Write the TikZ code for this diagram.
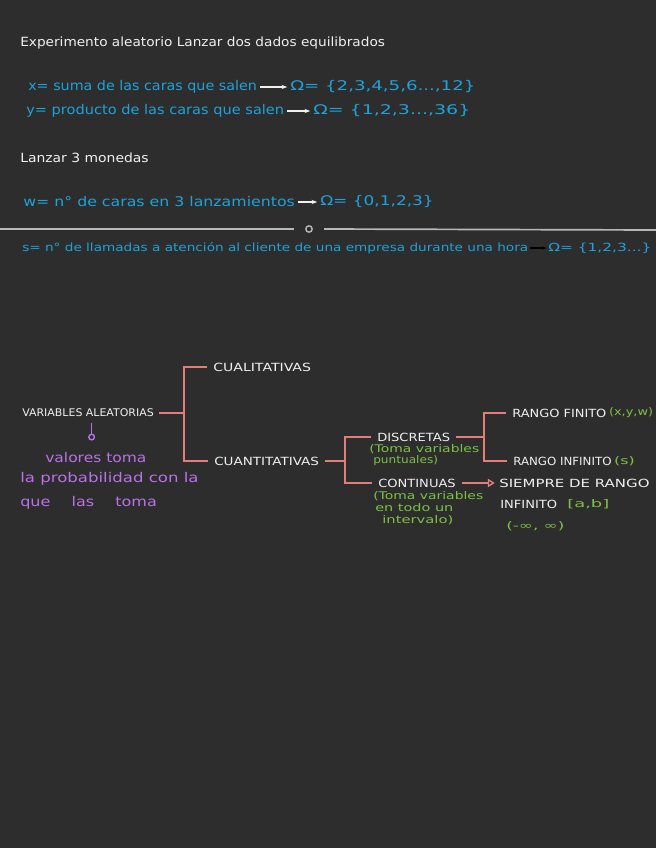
\documentclass[tikz,border=0pt]{standalone}
\usepackage{graphicx}
\usepackage{fontspec}
\setmainfont{DejaVu Sans}
\usetikzlibrary{arrows.meta, positioning}
\definecolor{fondo}{HTML}{2D2D2D}
\definecolor{blanco}{HTML}{F0F0F0}
\definecolor{celeste}{HTML}{1CA3DB}
\definecolor{verde}{HTML}{7CC242}
\definecolor{lila}{HTML}{B972E8}
\definecolor{rosa}{HTML}{E27E7A}
\definecolor{gris}{HTML}{B8B8B8}
% letra "a mano": estirada a lo ancho
\newcommand{\ancho}[2]{\scalebox{#1}[1]{#2}}

\begin{document}
\begin{tikzpicture}[
  x=0.025cm, y=-0.025cm,
  font=\fontsize{9.5}{11}\selectfont,
  txt/.style={inner sep=0pt, anchor=west, text=blanco, font=\fontsize{9}{11}\selectfont},
  azul/.style={inner sep=0pt, anchor=west, text=celeste},
  mayus/.style={inner sep=0pt, anchor=west, text=blanco, font=\fontsize{8}{9}\selectfont},
  nota/.style={inner sep=0pt, anchor=west, text=verde, font=\fontsize{7.5}{8.5}\selectfont},
  morado/.style={inner sep=0pt, anchor=west, text=lila},
  flecha/.style={-{Stealth[length=4pt]}, blanco, line width=1pt},
  rama/.style={rosa, line width=1pt},
]
\useasboundingbox (0,0) rectangle (656,848);
\fill[fondo] (-10,-10) rectangle (666,858);

%% Dos dados
\node[txt] (titulo) at (20,43) {\ancho{1.08}{Experimento aleatorio Lanzar dos dados equilibrados}};

\node[azul] (xdef) at (28,87) {\ancho{1.07}{x= suma de las caras que salen}};
\node[azul] (xom) at (290,87) {\ancho{1.36}{Ω= \{2,3,4,5,6...,12\}}};
\draw[flecha] ([xshift=2pt]xdef.east) -- ([xshift=-2pt]xom.west);

\node[azul] (ydef) at (26,111) {\ancho{1.09}{y= producto de las caras que salen}};
\node[azul] (yom) at (313,111) {\ancho{1.42}{Ω= \{1,2,3...,36\}}};
\draw[flecha] ([xshift=2pt]ydef.east) -- ([xshift=-2pt]yom.west);

%% Tres monedas
\node[txt] (monedas) at (20,158) {\ancho{1.1}{Lanzar 3 monedas}};

\node[azul] (wdef) at (23,202) {\ancho{1.18}{w= n° de caras en 3 lanzamientos}};
\node[azul] (wom) at (320,202) {\ancho{1.27}{Ω= \{0,1,2,3\}}};
\draw[flecha] ([xshift=2pt]wdef.east) -- ([xshift=-2pt]wom.west);

%% separador
\node[draw=gris, circle, line width=1pt, inner sep=1.6pt] (sep) at (309,229) {};
\coordinate (sepizq) at (0,229);
\coordinate (sepder) at (656,230);
\draw[gris, line width=1.2pt] (sepizq) -- ([xshift=-8pt]sep.west);
\draw[gris, line width=1.2pt] ([xshift=8pt]sep.east) -- (sepder);

\node[azul, font=\fontsize{8}{9}\selectfont] (sdef) at (22,248)
  {\ancho{1.21}{s= n° de llamadas a atención al cliente de una empresa durante una hora}};
\node[azul, font=\fontsize{8}{9}\selectfont] (som) at (548,248) {\ancho{1.37}{Ω= \{1,2,3...\}}};
\draw[-{Stealth[length=3pt]}, black, line width=1pt] ([xshift=1pt]sdef.east) -- ([xshift=-1pt]som.west);

%% Esquema de variables
\node[mayus, font=\fontsize{7.5}{9}\selectfont] (va) at (22,413) {\ancho{1.04}{VARIABLES ALEATORIAS}};
\node[mayus] (cual) at (213,367) {\ancho{1.25}{CUALITATIVAS}};
\node[mayus] (cuan) at (214,461) {\ancho{1.2}{CUANTITATIVAS}};
\coordinate (b1) at (184,413);
\draw[rama] ([xshift=3.5pt]va.east) -- (b1);
\draw[rama] ([xshift=-4pt]cual.west) -| (b1) |- ([xshift=-4pt]cuan.west);

\node[mayus] (disc) at (377,437) {\ancho{1.16}{DISCRETAS}};
\node[nota] (discnota1) at (369,449) {\ancho{1.32}{(Toma variables}};
\node[nota] (discnota2) at (373,461) {\ancho{1.15}{puntuales)}};
\node[mayus] (cont) at (378,483) {\ancho{1.16}{CONTINUAS}};
\node[nota] (contnota1) at (373,496) {\ancho{1.32}{(Toma variables}};
\node[nota] (contnota2) at (375,508) {\ancho{1.37}{en todo un}};
\node[nota] (contnota3) at (382,520) {\ancho{1.4}{intervalo)}};
\coordinate (b2) at (345,461);
\draw[rama] ([xshift=4pt]cuan.east) -- (b2);
\draw[rama] ([xshift=-4pt]disc.west) -| (b2) |- ([xshift=-4pt]cont.west);

\node[mayus] (finito) at (512,413) {\ancho{1.15}{RANGO FINITO}};
\node[nota] (finitonota) at ([xshift=1.5pt]finito.east) {\ancho{1.22}{(x,y,w)}};
\node[mayus] (infinito) at (513,461) {\ancho{1.05}{RANGO INFINITO}};
\node[nota] (infinitonota) at ([xshift=1.5pt]infinito.east) {\ancho{1.5}{(s)}};
\coordinate (b3) at (484,437);
\draw[rama] ([xshift=4pt]disc.east) -- (b3);
\draw[rama] ([xshift=-4pt]finito.west) -| (b3) |- ([xshift=-4pt]infinito.west);

\node[mayus] (siempre) at (499,483) {\ancho{1.33}{SIEMPRE DE RANGO}};
\node[mayus] (infin) at (500,504) {\ancho{1.16}{INFINITO}};
\node[nota] (ab) at (567,504) {\ancho{1.7}{[a,b]}};
\node[nota] (reales) at (506,526) {\ancho{1.6}{(-∞, ∞)}};
\draw[rama, -{Triangle[open, length=5pt, width=6pt]}] ([xshift=4pt]cont.east) -- ([xshift=-3pt]siempre.west);

%% Nota morada
\node[morado] (valores) at (45,458) {\ancho{1.16}{valores toma}};
\node[morado] (proba) at (20,479) {\ancho{1.24}{la probabilidad con la}};
\node[morado] (que) at (20,503) {\ancho{1.2}{que \quad las \quad toma}};
\draw[lila, line width=1pt, -{Circle[open, length=5pt]}]
  ([xshift=-3pt,yshift=-4pt]valores.north |- va.south) -- ([xshift=-3pt,yshift=8.5pt]valores.north);
\end{tikzpicture}
\end{document}
